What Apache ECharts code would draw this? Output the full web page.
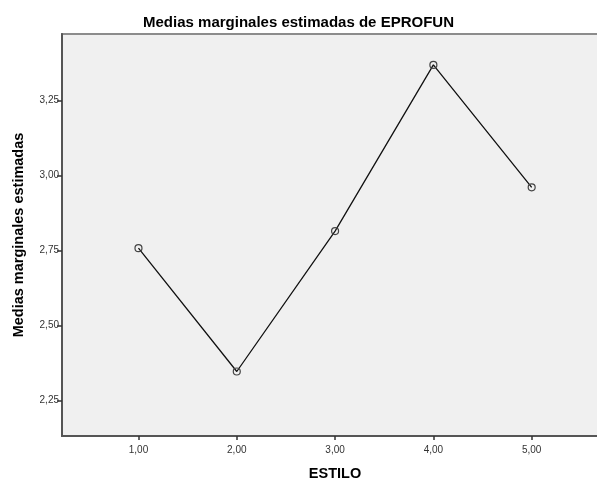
<!DOCTYPE html>
<html>
<head>
<meta charset="utf-8">
<script src="https://cdn.jsdelivr.net/npm/echarts@6/dist/echarts.min.js"></script>
<style>
html,body{margin:0;padding:0;background:#fff;}
#c{width:597px;height:479px;}
</style>
</head>
<body>
<div id="c"></div>
<script>
const categories = [1, 2, 3, 4, 5];
const medias = [2.758, 2.347, 2.815, 3.369, 2.961];
const yTicks = [2.25, 2.5, 2.75, 3.0, 3.25];
const xTicks = [1, 2, 3, 4, 5];

const fmt = v => v.toFixed(2).replace('.', ',');
const chart = echarts.init(document.getElementById('c'), null, {renderer: 'canvas'});
chart.setOption({
  animation: false,
  backgroundColor: '#ffffff',
  title: {
    text: 'Medias marginales estimadas de EPROFUN',
    left: 'center',
    top: 10,
    textStyle: {fontFamily: 'Liberation Sans', fontSize: 15, fontWeight: 'bold', color: '#000'}
  },
  grid: {
    left: 62, top: 34, right: -3, bottom: 43,
    outerBoundsMode: 'none',
    containLabel: false,
    show: true, backgroundColor: '#f0f0f0', borderColor: '#8c8c8c', borderWidth: 2
  },
  xAxis: {
    type: 'value',
    min: 0.222, max: 5.695,
    name: 'ESTILO',
    nameLocation: 'middle',
    nameGap: 30,
    nameTextStyle: {fontFamily: 'Liberation Sans', fontSize: 14.5, fontWeight: 'bold', color: '#000', padding: [0, 0, 0, 8]},
    splitLine: {show: false},
    axisLine: {show: true, lineStyle: {color: '#555', width: 2}},
    axisTick: {show: true, customValues: xTicks, length: 4, lineStyle: {color: '#333', width: 1.5}},
    axisLabel: {customValues: xTicks, formatter: fmt, fontFamily: 'Liberation Sans', fontSize: 10, color: '#333', margin: 9}
  },
  yAxis: {
    type: 'value',
    min: 2.132, max: 3.472,
    name: 'Medias marginales estimadas',
    nameLocation: 'middle',
    nameGap: 36,
    nameTextStyle: {fontFamily: 'Liberation Sans', fontSize: 14.5, fontWeight: 'bold', color: '#000'},
    splitLine: {show: false},
    axisLine: {show: true, lineStyle: {color: '#555', width: 2}},
    axisTick: {show: true, customValues: yTicks, length: 5, lineStyle: {color: '#333', width: 1.5}},
    axisLabel: {customValues: yTicks, formatter: fmt, fontFamily: 'Liberation Sans', fontSize: 10, color: '#333', margin: 3}
  },
  series: [{
    type: 'line',
    data: categories.map((c, i) => [c, medias[i]]),
    symbol: 'circle',
    symbolSize: 7,
    itemStyle: {color: 'rgba(0,0,0,0)', borderColor: '#444', borderWidth: 1.2},
    lineStyle: {color: '#111', width: 1.3}
  }]
});
</script>
</body>
</html>
